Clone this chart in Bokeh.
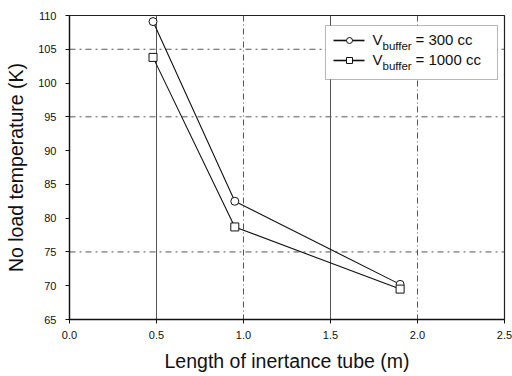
from bokeh.plotting import figure
from bokeh.models import (Label, BoxAnnotation, Span, FixedTicker, ColumnDataSource)
from bokeh.embed import file_html
from bokeh.resources import INLINE

# data
length_m = [0.48, 0.95, 1.90]
temp_300cc = [109.1, 82.5, 70.2]
temp_1000cc = [103.8, 78.7, 69.5]
x_ticks = [0.0, 0.5, 1.0, 1.5, 2.0, 2.5]
y_ticks = [65, 70, 75, 80, 85, 90, 95, 100, 105, 110]
series_names = ["300 cc", "1000 cc"]
series_markers = ["circle", "square"]

FONT = "Liberation Sans"
W, H = 512, 376
L, R, T, B = 69, 8, 15, 57
X0, X1, Y0, Y1 = 0.0, 2.5, 65, 110

p = figure(width=W, height=H, x_range=(X0, X1), y_range=(Y0, Y1),
           output_backend="svg", toolbar_location=None,
           min_border_left=L, min_border_right=R, min_border_top=T, min_border_bottom=B)
p.background_fill_color = "white"
p.border_fill_color = "white"
p.outline_line_color = "#222222"
p.outline_line_width = 1.2

p.xaxis.ticker = FixedTicker(ticks=x_ticks)
p.yaxis.ticker = FixedTicker(ticks=y_ticks)
p.xaxis.major_label_overrides = {0: "0.0", 0.5: "0.5", 1: "1.0", 1.5: "1.5", 2: "2.0", 2.5: "2.5"}
for ax in (p.xaxis, p.yaxis):
    ax.major_label_text_font = FONT
    ax.major_label_text_font_size = "11px"
    ax.major_label_text_color = "#111111"
    ax.axis_label_text_font = FONT
    ax.axis_label_text_font_size = "19.5px"
    ax.axis_label_text_font_style = "normal"
    ax.axis_label_text_color = "#111111"
    ax.axis_line_color = "#111111"
    ax.axis_line_width = 1.3
    ax.major_tick_line_color = "#111111"
    ax.major_tick_out = 4
    ax.major_tick_in = 0
    ax.minor_tick_line_color = None
p.xaxis.axis_label = "Length of inertance tube (m)"
p.yaxis.axis_label = "No load temperature (K)"
p.xaxis.major_label_standoff = 7
p.xaxis.axis_label_standoff = 8
p.yaxis.major_label_standoff = 9
p.yaxis.axis_label_standoff = 8

p.xgrid.visible = False
p.ygrid.visible = False
# grid lines as seen in the scan
for xv, dash in [(0.5, "solid"), (1.0, "6 3 1 3"), (1.5, "solid"), (2.0, "6 3 1 3")]:
    p.add_layout(Span(location=xv, dimension="height", line_color="#555555",
                      line_width=1, line_dash=dash, level="underlay"))
for yv in [75, 95, 105]:
    p.add_layout(Span(location=yv, dimension="width", line_color="#555555",
                      line_width=1, line_dash="6 4 2 4", level="underlay"))

src1 = ColumnDataSource(dict(x=length_m, y=temp_300cc))
src2 = ColumnDataSource(dict(x=length_m, y=temp_1000cc))
p.line("x", "y", source=src1, line_color="#111111", line_width=1.1)
p.line("x", "y", source=src2, line_color="#111111", line_width=1.1)
p.scatter("x", "y", source=src1, marker="circle", size=8, fill_color="white",
          line_color="#111111", line_width=1)
p.scatter("x", "y", source=src2, marker="square", size=8, fill_color="white",
          line_color="#111111", line_width=1)

# manual legend (needed for the subscript in V_buffer)
def sx(px):
    return px - L
def sy(py):
    return (H - B) - py
FW, FH = W - L - R, H - T - B
def dx(px):
    return X0 + (px - L) / FW * (X1 - X0)
def dy(py):
    return Y1 - (py - T) / FH * (Y1 - Y0)

p.add_layout(BoxAnnotation(left=sx(325), right=sx(497), top=sy(25), bottom=sy(79),
                           left_units="screen", right_units="screen",
                           top_units="screen", bottom_units="screen",
                           fill_color="white", fill_alpha=1,
                           line_color="#111111", line_width=1, level="annotation"))
for i, (name, mk) in enumerate(zip(series_names, series_markers)):
    yc = 40 + 20 * i
    seg = p.segment(x0=[dx(333)], y0=[dy(yc)], x1=[dx(364)], y1=[dy(yc)],
                    line_color="#111111", line_width=1.6)
    seg.level = "overlay"
    mr = p.scatter(x=[dx(349)], y=[dy(yc)], marker=mk, size=6, fill_color="white",
                   line_color="#111111", line_width=1)
    mr.level = "overlay"
    p.add_layout(Label(x=sx(372), y=sy(yc - 1), x_units="screen", y_units="screen",
                       text="V", text_font=FONT, text_font_size="15px",
                       text_baseline="middle", text_color="#111111", level="overlay"))
    p.add_layout(Label(x=sx(382), y=sy(yc + 5), x_units="screen", y_units="screen",
                       text="buffer", text_font=FONT, text_font_size="11.5px",
                       text_baseline="middle", text_color="#111111", level="overlay"))
    p.add_layout(Label(x=sx(415), y=sy(yc - 1), x_units="screen", y_units="screen",
                       text="= " + name, text_font=FONT, text_font_size="15px",
                       text_baseline="middle", text_color="#111111", level="overlay"))
out = file_html(p, INLINE)
open("out.html", "w").write(out)
